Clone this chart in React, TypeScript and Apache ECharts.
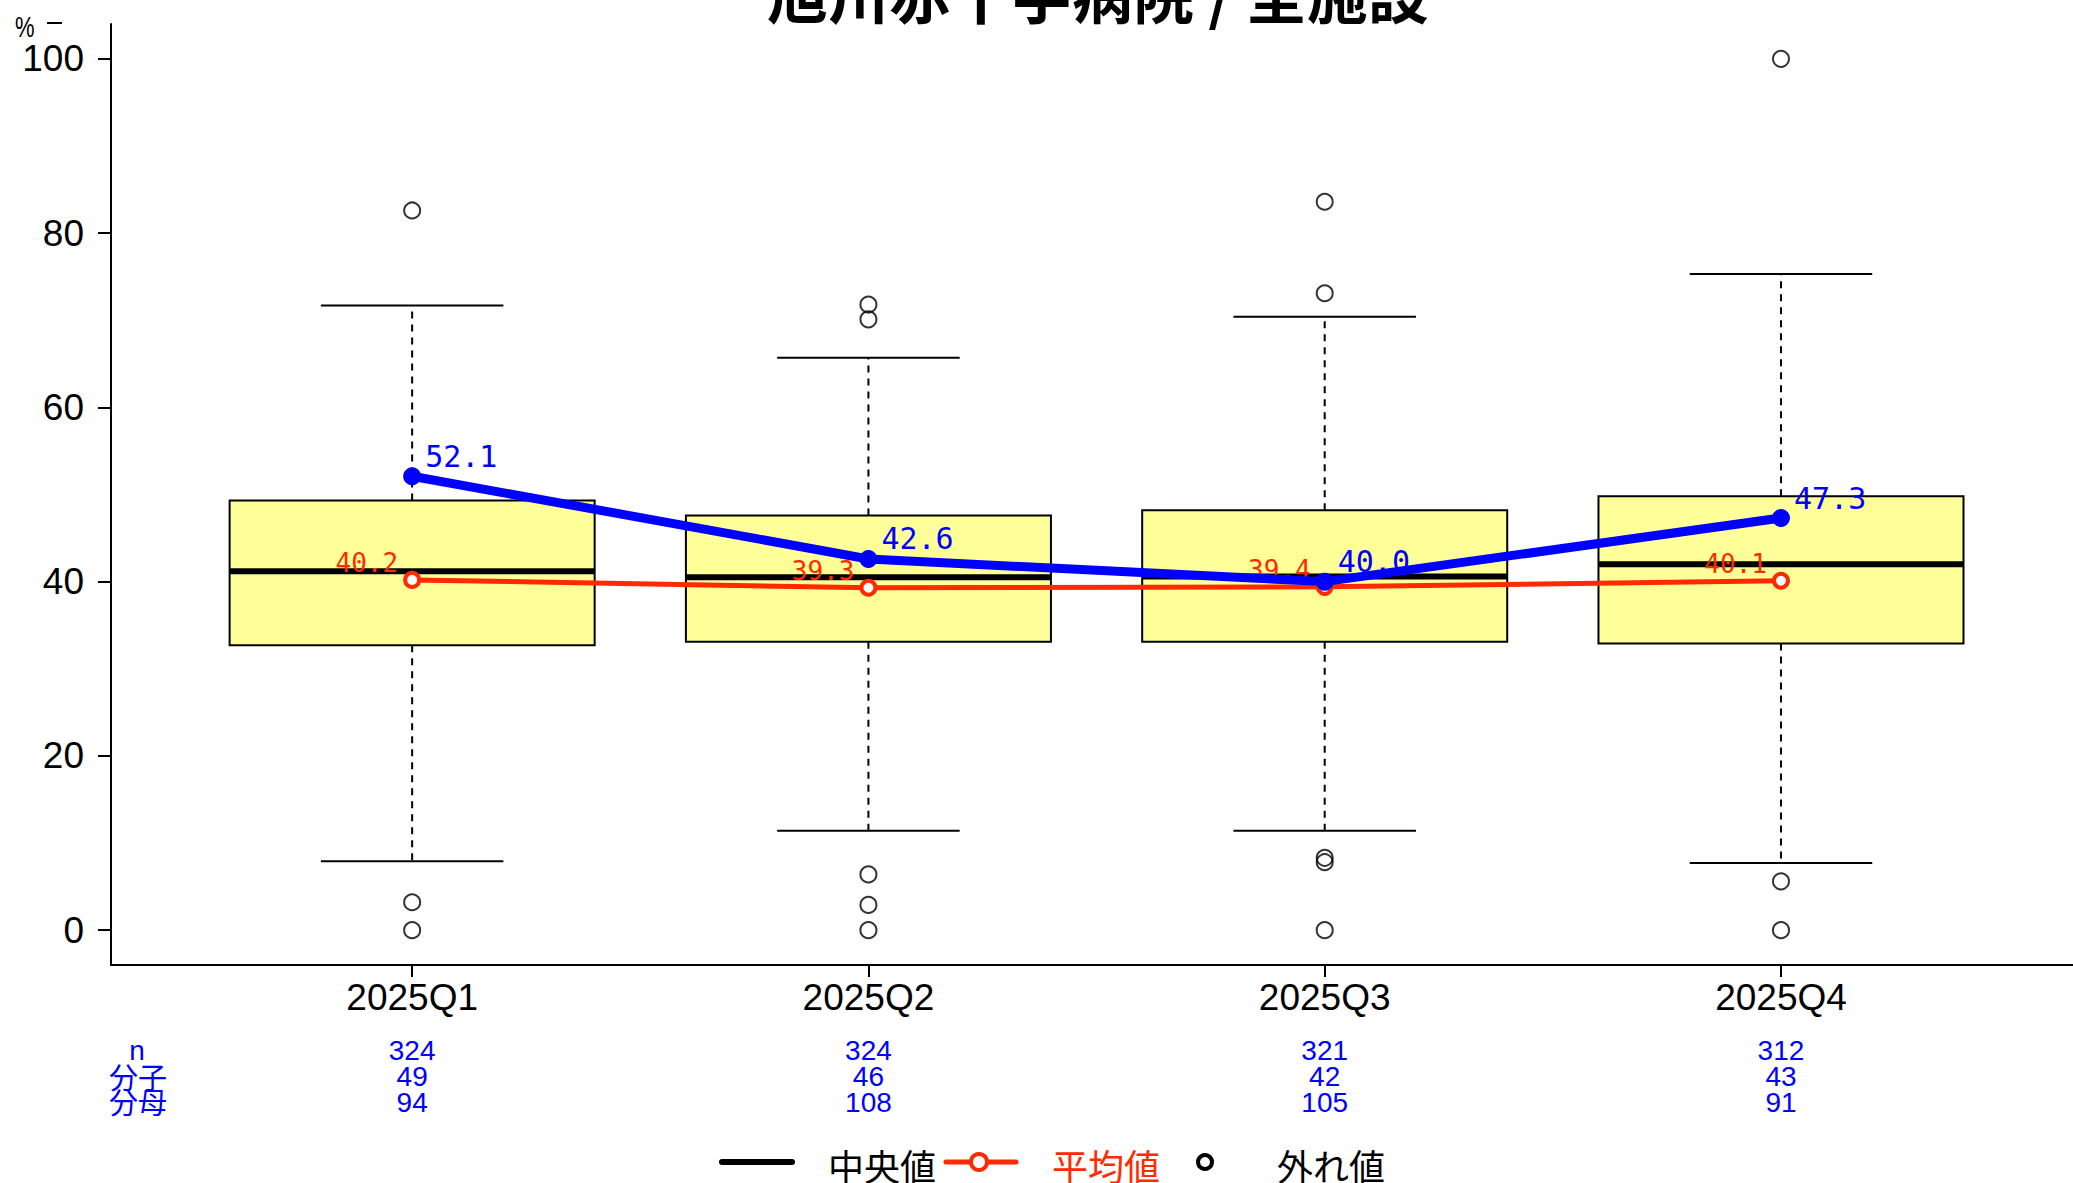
import React, { useEffect, useRef } from "react";
import * as echarts from "echarts";

const categories = ["2025Q1", "2025Q2", "2025Q3", "2025Q4"];
const xPositions = [1, 2, 3, 4];
const whiskerLow = [7.9, 11.4, 11.4, 7.7];
const quartile1 = [32.7, 33.1, 33.1, 32.9];
const medians = [41.2, 40.5, 40.6, 42.0];
const quartile3 = [49.3, 47.6, 48.2, 49.8];
const whiskerHigh = [71.7, 65.7, 70.4, 75.3];
const outliers: [number, number][] = [
  [1, 82.6], [1, 3.2], [1, 0],
  [2, 71.8], [2, 70.1], [2, 6.4], [2, 2.9], [2, 0],
  [3, 83.6], [3, 73.1], [3, 8.3], [3, 7.8], [3, 0],
  [4, 100], [4, 5.6], [4, 0],
];
const meanValues = [40.2, 39.3, 39.4, 40.1];
const hospitalValues = [52.1, 42.6, 40.0, 47.3];
const nCounts = [324, 324, 321, 312];
const numerators = [49, 46, 42, 43];
const denominators = [94, 108, 105, 91];
const yTicks = [0, 20, 40, 60, 80, 100];
const titleText = "旭川赤十字病院 / 全施設";
const tableRowLabels = ["n", "分子", "分母"];
const legendLabels = ["中央値", "平均値", "外れ値"];

const SANS = "'Liberation Sans', Arial, sans-serif";
const MONO = "'DejaVu Sans Mono', monospace";
const CJK = "'Noto Sans CJK JP', sans-serif";
const RED = "#ff2a00";
const BLUE = "#0000ff";

export default function App() {
  const ref = useRef<HTMLDivElement>(null);
  useEffect(() => {
    if (!ref.current) return;
    const chart = echarts.init(ref.current, null, { renderer: "svg" });
    const boxData = xPositions.map((x, i) => [
      x, whiskerLow[i], quartile1[i], medians[i], quartile3[i], whiskerHigh[i],
    ]);
    chart.setOption({
      animation: false,
      backgroundColor: "#ffffff",
      grid: { left: 111, right: 0, top: 24, bottom: 218 },
      xAxis: {
        type: "value",
        min: 0.34,
        max: 4.64,
        splitLine: { show: false },
        axisLine: { onZero: false, lineStyle: { color: "#000", width: 2 } },
        axisTick: { show: true, customValues: xPositions, length: 12, lineStyle: { color: "#000", width: 2 } },
        axisLabel: {
          customValues: xPositions,
          margin: 12,
          formatter: (v: number) => {
            const i = Math.round(v) - 1;
            return `{q|${categories[i]}}\n{s| }\n{t|${nCounts[i]}}\n{t|${numerators[i]}}\n{t|${denominators[i]}}`;
          },
          rich: {
            q: { fontFamily: SANS, fontSize: 37, color: "#000", lineHeight: 40 },
            s: { fontSize: 2, lineHeight: 20 },
            t: { fontFamily: SANS, fontSize: 28, color: BLUE, lineHeight: 26 },
          },
        },
      },
      yAxis: {
        type: "value",
        min: -4,
        max: 104,
        splitLine: { show: false },
        axisLine: { onZero: false, lineStyle: { color: "#000", width: 2 } },
        axisTick: { show: true, customValues: yTicks, length: 13, lineStyle: { color: "#000", width: 2 } },
        axisLabel: {
          customValues: yTicks,
          margin: 27,
          fontFamily: SANS,
          fontSize: 37,
          color: "#000",
        },
      },
      series: [
        {
          type: "custom",
          z: 1,
          data: boxData,
          encode: { x: 0, y: [1, 2, 3, 4, 5] },
          renderItem: (params: any, api: any) => {
            const x = api.value(0);
            const pLo = api.coord([x, api.value(1)]);
            const pA = api.coord([x, api.value(2)]);
            const pM = api.coord([x, api.value(3)]);
            const pB = api.coord([x, api.value(4)]);
            const pHi = api.coord([x, api.value(5)]);
            const boxW = api.size([0.8, 0])[0];
            const capW = api.size([0.4, 0])[0];
            const dash = { stroke: "#000", lineWidth: 2, lineDash: [7, 6] };
            const solid = { stroke: "#000", lineWidth: 2 };
            return {
              type: "group",
              children: [
                { type: "line", shape: { x1: pB[0], y1: pB[1], x2: pHi[0], y2: pHi[1] }, style: dash },
                { type: "line", shape: { x1: pA[0], y1: pA[1], x2: pLo[0], y2: pLo[1] }, style: dash },
                { type: "line", shape: { x1: pHi[0] - capW / 2, y1: pHi[1], x2: pHi[0] + capW / 2, y2: pHi[1] }, style: solid },
                { type: "line", shape: { x1: pLo[0] - capW / 2, y1: pLo[1], x2: pLo[0] + capW / 2, y2: pLo[1] }, style: solid },
                {
                  type: "rect",
                  shape: { x: pB[0] - boxW / 2, y: pB[1], width: boxW, height: pA[1] - pB[1] },
                  style: { fill: "#ffff99", stroke: "#000", lineWidth: 2 },
                },
                { type: "line", shape: { x1: pM[0] - boxW / 2, y1: pM[1], x2: pM[0] + boxW / 2, y2: pM[1] }, style: { stroke: "#000", lineWidth: 6 } },
              ],
            };
          },
        },
        {
          type: "scatter",
          z: 2,
          data: outliers,
          symbol: "circle",
          symbolSize: 16,
          itemStyle: { color: "rgba(0,0,0,0)", borderColor: "#000", borderWidth: 2 },
        },
        {
          type: "line",
          z: 3,
          data: xPositions.map((x, i) => [x, meanValues[i]]),
          symbol: "circle",
          symbolSize: 14,
          lineStyle: { color: RED, width: 5 },
          itemStyle: { color: "#fff", borderColor: RED, borderWidth: 4 },
          label: {
            show: true,
            position: "left",
            distance: 5,
            offset: [0, -17],
            fontFamily: MONO,
            fontSize: 26,
            color: RED,
            formatter: (p: any) => p.value[1].toFixed(1),
          },
        },
        {
          type: "line",
          z: 4,
          data: xPositions.map((x, i) => [x, hospitalValues[i]]),
          symbol: "circle",
          symbolSize: 18,
          lineStyle: { color: BLUE, width: 9 },
          itemStyle: { color: BLUE },
          label: {
            show: true,
            position: "right",
            distance: 4,
            offset: [0, -20],
            fontFamily: MONO,
            fontSize: 30,
            color: BLUE,
            formatter: (p: any) => p.value[1].toFixed(1),
          },
        },
      ],
      graphic: [
        {
          type: "text",
          x: 1098,
          y: 23,
          style: { text: titleText, fontFamily: CJK, fontWeight: "bold", fontSize: 61, fill: "#000", textAlign: "center", textVerticalAlign: "bottom" },
        },
        { type: "text", x: 15, y: 27, scaleY: 1.35, style: { text: "%", fontFamily: SANS, fontSize: 22, fill: "#000", textVerticalAlign: "middle" } },
        { type: "line", shape: { x1: 47, y1: 23, x2: 62, y2: 23 }, style: { stroke: "#000", lineWidth: 2 } },
        { type: "text", x: 137, y: 1050, style: { text: tableRowLabels[0], fontFamily: SANS, fontSize: 28, fill: BLUE, textAlign: "center", textVerticalAlign: "middle" } },
        { type: "text", x: 138, y: 1076, style: { text: tableRowLabels[1], fontFamily: CJK, fontSize: 29, fill: BLUE, textAlign: "center", textVerticalAlign: "middle" } },
        { type: "text", x: 138, y: 1101, style: { text: tableRowLabels[2], fontFamily: CJK, fontSize: 29, fill: BLUE, textAlign: "center", textVerticalAlign: "middle" } },
        { type: "line", shape: { x1: 722, y1: 1162, x2: 792, y2: 1162 }, style: { stroke: "#000", lineWidth: 6, lineCap: "round" } },
        { type: "text", x: 828, y: 1165, style: { text: legendLabels[0], fontFamily: CJK, fontSize: 36, fill: "#000", textVerticalAlign: "middle" } },
        { type: "line", shape: { x1: 946, y1: 1162, x2: 1016, y2: 1162 }, style: { stroke: RED, lineWidth: 5, lineCap: "round" } },
        { type: "circle", shape: { cx: 979, cy: 1162, r: 8 }, style: { fill: "#fff", stroke: RED, lineWidth: 4 } },
        { type: "text", x: 1052, y: 1165, style: { text: legendLabels[1], fontFamily: CJK, fontSize: 36, fill: RED, textVerticalAlign: "middle" } },
        { type: "circle", shape: { cx: 1205, cy: 1162, r: 7 }, style: { fill: "#fff", stroke: "#000", lineWidth: 4 } },
        { type: "text", x: 1277, y: 1165, style: { text: legendLabels[2], fontFamily: CJK, fontSize: 36, fill: "#000", textVerticalAlign: "middle" } },
      ],
    });
    return () => chart.dispose();
  }, []);
  return (
    <div
      ref={ref}
      style={{ position: "absolute", left: 0, top: 0, width: 2073, height: 1183, overflow: "hidden" }}
    />
  );
}
